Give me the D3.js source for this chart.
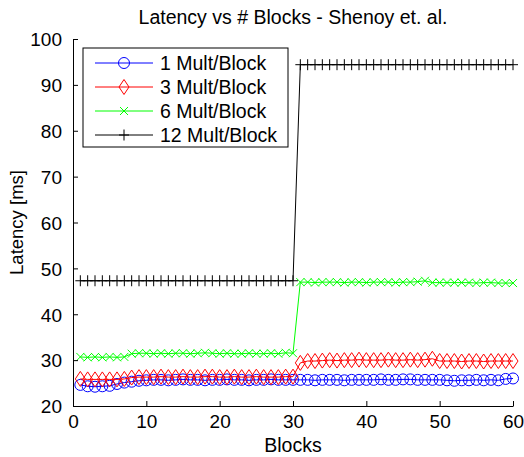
<!DOCTYPE html>
<html lang="en">
<head>
<meta charset="UTF-8">
<title>Latency vs # Blocks</title>
<script src="https://cdn.jsdelivr.net/npm/d3@7"></script>
<style>
    body { margin: 0; background: #fff; }
    text { font-family: "Liberation Sans", Arial, sans-serif; fill: #000; }
</style>
</head>
<body>
<script>
    const blocks = d3.range(1, 61);
    const seriesNames = ["1 Mult/Block", "3 Mult/Block", "6 Mult/Block", "12 Mult/Block"];
    const mult1 = [24.6, 24.3, 24.2, 24.3, 24.4, 24.8, 25.1, 25.3, 25.5, 25.6,
        25.7, 25.7, 25.6, 25.7, 25.8, 25.7, 25.7, 25.6, 25.7, 25.7,
        25.8, 25.7, 25.7, 25.6, 25.7, 25.7, 25.8, 25.7, 25.7, 25.7,
        25.7, 25.7, 25.6, 25.7, 25.7, 25.7, 25.6, 25.7, 25.7, 25.7,
        25.7, 25.8, 25.7, 25.7, 25.8, 25.8, 25.7, 25.7, 25.7, 25.7,
        25.6, 25.5, 25.6, 25.6, 25.7, 25.6, 25.7, 25.6, 25.9, 26.0];
    const mult3 = [25.9, 25.8, 25.8, 25.8, 25.8, 25.8, 25.9, 26.2, 26.3, 26.3,
        26.3, 26.4, 26.3, 26.3, 26.4, 26.3, 26.3, 26.4, 26.4, 26.3,
        26.3, 26.4, 26.3, 26.3, 26.4, 26.3, 26.3, 26.3, 26.4, 26.4,
        29.4, 29.8, 29.8, 29.9, 30.0, 29.9, 30.0, 30.0, 30.1, 30.0,
        30.0, 30.0, 30.1, 30.0, 30.0, 30.1, 30.0, 30.1, 30.3, 29.8,
        29.8, 29.8, 29.7, 29.8, 29.8, 29.7, 29.8, 29.8, 29.8, 29.8];
    const mult6 = [30.7, 30.6, 30.7, 30.6, 30.7, 30.6, 30.7, 31.4, 31.5, 31.5,
        31.4, 31.5, 31.4, 31.5, 31.5, 31.4, 31.5, 31.6, 31.5, 31.4,
        31.5, 31.4, 31.4, 31.5, 31.4, 31.4, 31.5, 31.4, 31.6, 31.5,
        47.0, 47.0, 46.9, 47.0, 47.0, 47.0, 46.9, 47.0, 47.0, 46.9,
        47.0, 47.0, 47.0, 46.9, 47.0, 47.0, 47.1, 47.3, 46.9, 46.9,
        46.9, 46.9, 46.9, 46.9, 46.8, 46.9, 46.9, 46.8, 46.8, 46.8];
    const mult12 = [47.3, 47.3, 47.3, 47.3, 47.3, 47.3, 47.3, 47.3, 47.3, 47.3,
        47.3, 47.3, 47.3, 47.3, 47.3, 47.3, 47.3, 47.3, 47.3, 47.3,
        47.3, 47.3, 47.3, 47.3, 47.3, 47.3, 47.3, 47.3, 47.3, 47.3,
        94.4, 94.4, 94.4, 94.4, 94.4, 94.4, 94.4, 94.4, 94.4, 94.4,
        94.4, 94.4, 94.4, 94.4, 94.4, 94.4, 94.4, 94.4, 94.4, 94.4,
        94.4, 94.4, 94.4, 94.4, 94.4, 94.4, 94.4, 94.4, 94.4, 94.4];
    const xTicks = [0, 10, 20, 30, 40, 50, 60];
    const yTicks = [20, 30, 40, 50, 60, 70, 80, 90, 100];

    const colors = ["#0000ff", "#ff0000", "#00ff00", "#000000"];
    const markers = ["circle", "diamond", "cross", "plus"];
    const allValues = [mult1, mult3, mult6, mult12];

    const width = 524, height = 457;
    const plotLeft = 73, plotRight = 513, plotTop = 39, plotBottom = 406;

    const x = d3.scaleLinear().domain([0, 60]).range([plotLeft, plotRight]);
    const y = d3.scaleLinear().domain([20, 100]).range([plotBottom, plotTop]);

    const svg = d3.select("body").append("svg").attr("width", width).attr("height", height);

    // marker path generator, size in px
    const markerPath = (type) => {
        if (type === "circle") return "M-5.5,0a5.5,5.5 0 1,0 11,0a5.5,5.5 0 1,0 -11,0";
        if (type === "diamond") return "M0,-7.5L5,0L0,7.5L-5,0Z";
        if (type === "cross") return "M-4,-4L4,4M-4,4L4,-4";
        return "M-5,0L5,0M0,-5.5L0,5.5";
    }

    const plot = svg.append("g");
    allValues.forEach((vals, i) => {
        const pts = blocks.map((b, j) => [b, vals[j]]);
        plot.append("path")
            .datum(pts)
            .attr("fill", "none")
            .attr("stroke", colors[i])
            .attr("stroke-width", 1)
            .attr("d", d3.line().x(d => x(d[0])).y(d => y(d[1])));
        plot.append("g")
            .selectAll("path")
            .data(pts)
            .join("path")
            .attr("transform", d => `translate(${x(d[0])},${y(d[1])})`)
            .attr("d", markerPath(markers[i]))
            .attr("fill", "none")
            .attr("stroke", colors[i])
            .attr("stroke-width", 1);
    });

    // axes (box off, ticks inward)
    const xAxis = svg.append("g").attr("transform", `translate(0,${plotBottom})`)
        .call(d3.axisBottom(x).tickValues(xTicks).tickSizeInner(-5).tickSizeOuter(0).tickPadding(9));
    const yAxis = svg.append("g").attr("transform", `translate(${plotLeft},0)`)
        .call(d3.axisLeft(y).tickValues(yTicks).tickSizeInner(-5).tickSizeOuter(0).tickPadding(11));
    [xAxis, yAxis].forEach(a => {
        a.select(".domain").attr("stroke", "#000");
        a.selectAll(".tick line").attr("stroke", "#000");
        a.selectAll("text").style("font-size", "19px").attr("font-family", null);
    });
    yAxis.selectAll(".tick text").attr("dy", "0.36em");

    svg.append("text")
        .attr("x", (plotLeft + plotRight) / 2).attr("y", 24)
        .attr("text-anchor", "middle").style("font-size", "19.5px")
        .text("Latency vs # Blocks - Shenoy et. al.");
    svg.append("text")
        .attr("x", (plotLeft + plotRight) / 2).attr("y", 452)
        .attr("text-anchor", "middle").style("font-size", "19.5px")
        .text("Blocks");
    svg.append("text")
        .attr("transform", `translate(23,${(plotTop + plotBottom) / 2}) rotate(-90)`)
        .attr("text-anchor", "middle").style("font-size", "18.5px")
        .text("Latency [ms]");

    // legend
    const legend = svg.append("g");
    legend.append("rect")
        .attr("x", 83).attr("y", 48).attr("width", 205).attr("height", 99)
        .attr("fill", "#fff").attr("stroke", "#000");
    seriesNames.forEach((name, i) => {
        const ly = 63 + i * 24;
        legend.append("line").attr("x1", 95).attr("x2", 153).attr("y1", ly).attr("y2", ly)
            .attr("stroke", colors[i]);
        legend.append("path").attr("transform", `translate(124,${ly})`)
            .attr("d", markerPath(markers[i])).attr("fill", "none").attr("stroke", colors[i]);
        legend.append("text").attr("x", 160).attr("y", ly + 7)
            .style("font-size", "19.5px").text(name);
    });
</script>
</body>
</html>
